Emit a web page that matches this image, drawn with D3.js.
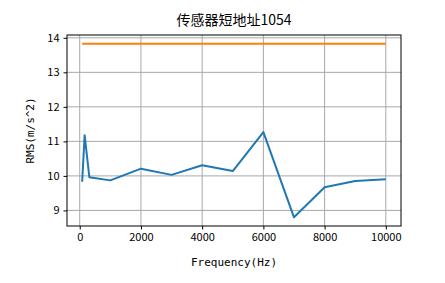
<!DOCTYPE html>
<html>
<head>
<meta charset="utf-8">
<script src="https://cdn.jsdelivr.net/npm/d3@7"></script>
<style>
  body { margin: 0; background: #fff; }
  text { font-family: "Noto Sans CJK SC", "DejaVu Sans", sans-serif; }
</style>
</head>
<body>
<script>
// data
var freqs = [80, 160, 315, 1000, 2000, 3000, 4000, 5000, 6000, 7000, 8000, 9000, 10000];
var rmsValues = [9.83, 11.18, 9.96, 9.87, 10.21, 10.03, 10.31, 10.14, 11.27, 8.80, 9.67, 9.85, 9.90];
var limitValue = 13.83;
var xTicks = [0, 2000, 4000, 6000, 8000, 10000];
var yTicks = [9, 10, 11, 12, 13, 14];

var WIDTH = 445, HEIGHT = 283;
var margin = {left: 67, right: 44, top: 35, bottom: 57};

var svg = d3.select("body").append("svg")
  .attr("width", WIDTH)
  .attr("height", HEIGHT);

// matplotlib style 5% margins
var xMin = d3.min(freqs), xMax = d3.max(freqs);
var xPad = (xMax - xMin) * 0.05;
var allY = rmsValues.concat([limitValue]);
var yMin = d3.min(allY), yMax = d3.max(allY);
var yPad = (yMax - yMin) * 0.05;

var x = d3.scaleLinear()
  .domain([xMin - xPad, xMax + xPad])
  .range([margin.left, WIDTH - margin.right]);
var y = d3.scaleLinear()
  .domain([yMin - yPad, yMax + yPad])
  .range([HEIGHT - margin.bottom, margin.top]);

// grid
svg.append("g")
  .selectAll("line.gx")
  .data(xTicks)
  .join("line")
    .attr("x1", d => x(d)).attr("x2", d => x(d))
    .attr("y1", margin.top).attr("y2", HEIGHT - margin.bottom)
    .attr("stroke", "#a8a8a8").attr("stroke-width", 1);
svg.append("g")
  .selectAll("line.gy")
  .data(yTicks)
  .join("line")
    .attr("x1", margin.left).attr("x2", WIDTH - margin.right)
    .attr("y1", d => y(d)).attr("y2", d => y(d))
    .attr("stroke", "#a8a8a8").attr("stroke-width", 1);

// lines
var line = d3.line()
  .x(d => x(d[0]))
  .y(d => y(d[1]));

svg.append("path")
  .datum(freqs.map((f, i) => [f, rmsValues[i]]))
  .attr("d", line)
  .attr("fill", "none")
  .attr("stroke", "#1f77b4")
  .attr("stroke-width", 2)
  .attr("stroke-linejoin", "round");

svg.append("path")
  .datum([[xMin, limitValue], [xMax, limitValue]])
  .attr("d", line)
  .attr("fill", "none")
  .attr("stroke", "#ff7f0e")
  .attr("stroke-width", 2);

// axes
var xAxis = svg.append("g")
  .attr("transform", "translate(0," + (HEIGHT - margin.bottom) + ")")
  .call(d3.axisBottom(x).tickValues(xTicks).tickSize(3.5).tickPadding(4).tickFormat(d3.format("d")));
var yAxis = svg.append("g")
  .attr("transform", "translate(" + margin.left + ",0)")
  .call(d3.axisLeft(y).tickValues(yTicks).tickSize(3.5).tickPadding(4).tickFormat(d3.format("d")));

[xAxis, yAxis].forEach(a => {
  a.select(".domain").remove();
  a.selectAll("text").attr("font-size", 11).attr("fill", "#000")
    .style("font-family", '"Noto Sans CJK SC", sans-serif');
  a.selectAll(".tick line").attr("stroke", "#000").attr("stroke-width", 1);
});

// frame
svg.append("rect")
  .attr("x", margin.left).attr("y", margin.top)
  .attr("width", WIDTH - margin.left - margin.right)
  .attr("height", HEIGHT - margin.top - margin.bottom)
  .attr("fill", "none").attr("stroke", "#000").attr("stroke-width", 1);

// labels
svg.append("text")
  .attr("x", (margin.left + WIDTH - margin.right) / 2)
  .attr("y", 25)
  .attr("text-anchor", "middle")
  .attr("font-size", 14)
  .text("传感器短地址1054");

svg.append("text")
  .attr("x", (margin.left + WIDTH - margin.right) / 2)
  .attr("y", 266)
  .attr("text-anchor", "middle")
  .attr("font-size", 11)
  .style("font-family", '"DejaVu Sans Mono", monospace')
  .text("Frequency(Hz)");

svg.append("text")
  .attr("transform", "translate(34," + ((margin.top + HEIGHT - margin.bottom) / 2) + ") rotate(-90)")
  .attr("text-anchor", "middle")
  .attr("font-size", 11)
  .style("font-family", '"DejaVu Sans Mono", monospace')
  .text("RMS(m/s^2)");
</script>
</body>
</html>
